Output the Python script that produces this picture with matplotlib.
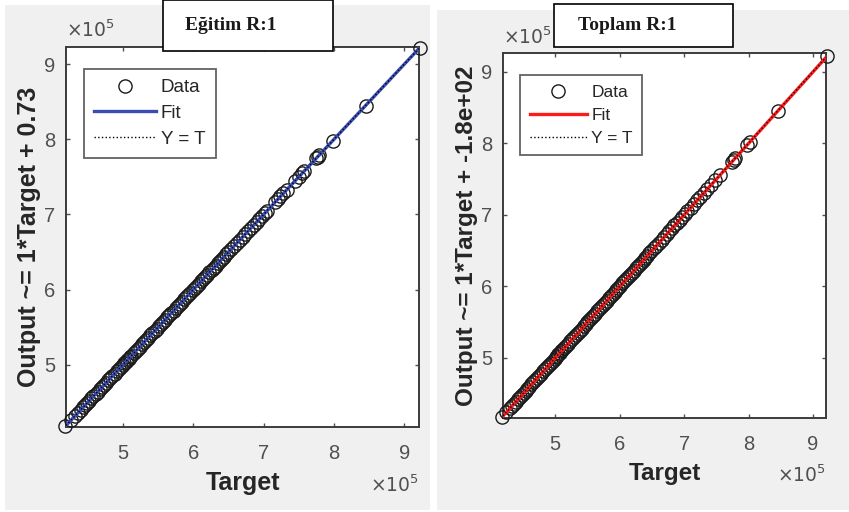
import numpy as np
import matplotlib.pyplot as plt
from matplotlib.patches import Rectangle

# values, in units of 1e5
train_target = [4.18, 4.26, 4.32, 4.36, 4.40, 4.43, 4.46, 4.49, 4.52, 4.55, 4.58,
                4.61, 4.64, 4.67, 4.70, 4.73, 4.76, 4.79, 4.82, 4.85, 4.88, 4.91,
                4.94, 4.97, 5.00, 5.02, 5.04, 5.06, 5.08, 5.10, 5.12, 5.15, 5.18,
                5.21, 5.24, 5.27, 5.30, 5.33, 5.36, 5.39, 5.42, 5.45, 5.48, 5.51,
                5.54, 5.57, 5.60, 5.63, 5.66, 5.69, 5.72, 5.75, 5.78, 5.81, 5.84,
                5.87, 5.90, 5.93, 5.96, 5.99, 6.02, 6.05, 6.08, 6.11, 6.14, 6.17,
                6.20, 6.23, 6.26, 6.29, 6.32, 6.35, 6.38, 6.41, 6.44, 6.47, 6.50,
                6.54, 6.58, 6.62, 6.66, 6.70, 6.74, 6.78, 6.82, 6.86, 6.90, 6.94,
                6.98, 7.02, 7.05, 7.16, 7.20, 7.24, 7.28, 7.33, 7.45, 7.50, 7.55,
                7.58, 7.75, 7.77, 7.79, 7.98, 8.45, 9.22]
train_output = list(train_target)  # R = 1: every point sits on the diagonal

all_target = [4.18, 4.24, 4.30, 4.33, 4.36, 4.39, 4.42, 4.45, 4.48, 4.51, 4.54,
              4.57, 4.60, 4.63, 4.66, 4.69, 4.72, 4.75, 4.78, 4.81, 4.84, 4.87,
              4.90, 4.93, 4.96, 4.99, 5.01, 5.03, 5.05, 5.07, 5.09, 5.11, 5.14,
              5.17, 5.20, 5.23, 5.26, 5.29, 5.32, 5.35, 5.38, 5.41, 5.44, 5.47,
              5.50, 5.53, 5.56, 5.59, 5.62, 5.65, 5.68, 5.71, 5.74, 5.77, 5.80,
              5.83, 5.86, 5.89, 5.92, 5.95, 5.98, 6.01, 6.04, 6.07, 6.10, 6.13,
              6.16, 6.19, 6.22, 6.25, 6.28, 6.31, 6.34, 6.37, 6.40, 6.43, 6.46,
              6.49, 6.53, 6.57, 6.61, 6.65, 6.69, 6.73, 6.77, 6.81, 6.85, 6.89,
              6.93, 6.97, 7.01, 7.05, 7.10, 7.15, 7.20, 7.25, 7.30, 7.36, 7.42,
              7.48, 7.55, 7.74, 7.77, 7.79, 7.98, 8.02, 8.45, 9.22]
all_output = list(all_target)

ticks = [5, 6, 7, 8, 9]
titles = ["Eğitim R:1", "Toplam R:1"]
ylabels = ["Output ~= 1*Target + 0.73", "Output ~= 1*Target + -1.8e+02"]
fit_colors = ["#3a4db3", "#ff1a1a"]

plt.rcParams['font.family'] = ['Liberation Sans', 'DejaVu Sans']

W, H = 849, 512
fig = plt.figure(figsize=[W / 100, H / 100], dpi=100)
fig.patch.set_facecolor("white")


def px(x0, y0, x1, y1):
    # pixel box (top-left origin) -> figure fraction rect
    return [x0 / W, 1 - y1 / H, (x1 - x0) / W, (y1 - y0) / H]


# grey figure backgrounds
for box in [(5, 5, 430, 510), (437, 10, 849, 510)]:
    r = px(*box)
    fig.add_artist(Rectangle((r[0], r[1]), r[2], r[3], transform=fig.transFigure,
                             facecolor="#f0f0f0", edgecolor="none", zorder=-10))

axes_boxes = [(66, 47, 419, 427), (503, 53, 826, 418)]
lims = [([4.19, 9.21], [4.17, 9.23]), ([4.19, 9.20], [4.16, 9.26])]
legend_pos = [(84, 69), (520, 75)]
data = [(train_target, train_output), (all_target, all_output)]
offsets = [0.73e-5, -1.8e-3]
label_size = [18, 17.5]
leg_size = [13.5, 12.5]
bottom_exp = [-0.125, -0.128]

gray = "#505050"
for i in range(2):
    ax = fig.add_axes(px(*axes_boxes[i]))
    T, Y = np.array(data[i][0]), np.array(data[i][1])
    xl, yl = lims[i]
    ax.plot(T, Y, "o", mfc="none", mec="#1a1a1a", ms=9.5, mew=1.0, label="Data",
            zorder=3, clip_on=False)
    xs = np.array(xl)
    ax.plot(xs, xs + offsets[i], color=fit_colors[i], lw=2.4, label="Fit", zorder=4)
    ax.plot(xs, xs, color="k", ls=":", lw=1.0, label="Y = T", zorder=5)
    ax.set_xlim(xl)
    ax.set_ylim(yl)
    ax.set_xticks(ticks)
    ax.set_yticks(ticks)
    ax.tick_params(direction="in", length=3, width=1, colors=gray, labelsize=14.5,
                   top=True, right=True)
    ax.tick_params(axis="x", pad=12)
    ax.tick_params(axis="y", pad=8)
    for s in ax.spines.values():
        s.set_color("#3c3c3c")
        s.set_linewidth(1.4)
    ax.set_xlabel("Target", fontsize=label_size[i], fontweight="bold", color="#262626",
                  labelpad=6)
    ax.set_ylabel(ylabels[i], fontsize=label_size[i], fontweight="bold", color="#262626",
                  labelpad=2)
    ax.text(0.0, 1.015, r"$\times10^5$", transform=ax.transAxes, fontsize=13.5,
            color=gray, ha="left", va="bottom")
    ax.text(1.0, bottom_exp[i], r"$\times10^5$", transform=ax.transAxes, fontsize=13.5,
            color=gray, ha="right", va="top")
    lx, ly = legend_pos[i]
    leg = ax.legend(loc="upper left", bbox_to_anchor=(lx / W, 1 - ly / H),
                    bbox_transform=fig.transFigure, borderaxespad=0,
                    fontsize=leg_size[i], frameon=True, fancybox=False,
                    edgecolor="#3c3c3c", handlelength=3.3, labelspacing=0.45,
                    borderpad=0.55, handletextpad=0.25)
    leg.get_frame().set_linewidth(1.3)
    for t in leg.get_texts():
        t.set_color("#262626")

# title boxes
title_boxes = [(163, 0, 333, 51), (554, 4, 733, 47)]
title_x = [231, 627]
for i in range(2):
    r = px(*title_boxes[i])
    fig.add_artist(Rectangle((r[0], r[1]), r[2], r[3], transform=fig.transFigure,
                             facecolor="white", edgecolor="black", lw=1.2, zorder=10))
    fig.text(title_x[i] / W, 1 - 25 / H, titles[i], fontsize=14, fontweight="bold",
             family="Liberation Serif", color="#1a1a1a", ha="center", va="center",
             zorder=11)

fig.savefig("out.png", dpi=100)
